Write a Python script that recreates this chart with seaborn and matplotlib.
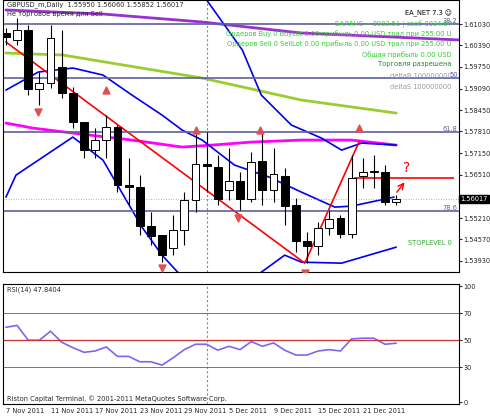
import numpy as np, pandas as pd, matplotlib
matplotlib.use("Agg")
import matplotlib.pyplot as plt
import seaborn as sns

# ---- data ----
opens  = [1.6075,1.6055,1.6085,1.5908,1.5926,1.5974,1.5896,1.5809,1.5725,1.5755,1.5794,1.5620,1.5614,1.5497,1.5470,1.5431,1.5485,1.5575,1.5683,1.5674,1.5605,1.5632,1.5578,1.5692,1.5605,1.5647,1.5560,1.5452,1.5437,1.5491,1.5521,1.5473,1.5647,1.5659,1.5659,1.5569]
closes = [1.6064,1.6085,1.5908,1.5926,1.6061,1.5896,1.5809,1.5725,1.5755,1.5794,1.5620,1.5614,1.5497,1.5467,1.5410,1.5485,1.5575,1.5683,1.5677,1.5578,1.5632,1.5578,1.5689,1.5605,1.5653,1.5557,1.5452,1.5437,1.5491,1.5518,1.5473,1.5641,1.5659,1.5662,1.5569,1.5578]
highs  = [1.6090,1.6120,1.6100,1.5960,1.6100,1.6085,1.5915,1.5810,1.5790,1.5830,1.5800,1.5700,1.5650,1.5540,1.5450,1.5530,1.5600,1.5780,1.5780,1.5710,1.5730,1.5660,1.5720,1.5780,1.5730,1.5670,1.5580,1.5480,1.5510,1.5545,1.5530,1.5710,1.5700,1.5710,1.5680,1.5590]
lows   = [1.6040,1.6040,1.5890,1.5860,1.5910,1.5880,1.5790,1.5700,1.5700,1.5700,1.5600,1.5560,1.5470,1.5440,1.5390,1.5410,1.5440,1.5540,1.5600,1.5560,1.5575,1.5545,1.5570,1.5560,1.5570,1.5500,1.5420,1.5386,1.5410,1.5470,1.5460,1.5460,1.5610,1.5610,1.5560,1.5560]
rsi = [59.6,61,50,50,56.7,48.5,44.5,41,42,45,38,38,34,34,31.5,37,43,47,47,42.6,45.5,43,49,45.5,48,42.6,39,39,42,43,42,51,51.5,51.5,47,47.8]

up_x   = [0,10,15,18.0,21.2,22.9,25.6,28.3,30.1,31.9,35]
up_y   = [1.630,1.635,1.628,1.6175,1.6025,1.5890,1.5800,1.5761,1.5725,1.5746,1.5740]
mid_x  = [0,2.9,6,8.7,11.3,14,15.8,17.6,20.5,23.6,26.5,29.5,31,34.8]
mid_y  = [1.5905,1.5959,1.5971,1.5950,1.5890,1.5830,1.5785,1.5755,1.5680,1.5644,1.5599,1.5554,1.5557,1.5584]
lo_x   = [0,0.9,6,8.7,12.2,14,15.4,18,21,22.9,25,26.5,30.1,35]
lo_y   = [1.5584,1.5650,1.5764,1.5695,1.5494,1.5410,1.5359,1.530,1.530,1.5359,1.5410,1.5389,1.5386,1.5434]
mag_x  = [0,2.4,6,11.3,15.8,18.5,22,26.5,31,35]
mag_y  = [1.5806,1.5791,1.5776,1.5755,1.5734,1.5740,1.5749,1.5755,1.5755,1.5740]
grn_x  = [0,5.1,17.6,26.5,35]
grn_y  = [1.6016,1.6010,1.5941,1.5875,1.5836]
pur_x  = [0,8.7,17.6,26.5,40.8]
pur_y  = [1.6145,1.6133,1.6109,1.6076,1.6055]
zig_x  = [0,26.8,31.7]
zig_y  = [1.6049,1.5386,1.5752]
fib_lv = ["38.2","50","61.8","78.6"]
fib_p  = [1.6103,1.5941,1.5779,1.5542]
fr_up_x = [9,17,22.8,31.7]; fr_up_y = [1.5905,1.5785,1.5785,1.5790]
fr_dn_x = [2.9,14,20.8,26.8]; fr_dn_y = [1.5840,1.5370,1.5520,1.5355]
yticks = [1.6103,1.6039,1.5975,1.5909,1.5845,1.5781,1.5715,1.5651,1.5521,1.5457,1.5393]
dates = ["7 Nov 2011","11 Nov 2011","17 Nov 2011","23 Nov 2011","29 Nov 2011","5 Dec 2011","9 Dec 2011","15 Dec 2011","21 Dec 2011"]

sns.set_style("white")
plt.rcParams['font.family'] = ['DejaVu Sans']
FS = 4.8
fig = plt.figure(figsize=(4.9,4.2), dpi=100)
ax = fig.add_axes([0.006,0.352,0.93,0.648])
ax2 = fig.add_axes([0.006,0.038,0.93,0.285])
xl = (-0.27, 40.6)
n = len(opens); idx = np.arange(n)

for a in (ax, ax2):
    a.set_xlim(*xl)
    for s in a.spines.values(): s.set_color("black"); s.set_linewidth(0.8)
    a.axvline(18.0, color="#888888", ls=(0,(2,2)), lw=0.8)
ax.set_ylim(1.5359, 1.6175)

for i,(o,c,h,l) in enumerate(zip(opens,closes,highs,lows)):
    ax.vlines(i, l, h, color="black", lw=0.8, zorder=3)
    ax.bar(i, abs(c-o) or 0.00008, bottom=min(o,c), width=0.7, color="white" if c>=o else "black", edgecolor="black", lw=0.7, zorder=4)

df = lambda x,y: pd.DataFrame({"x":x,"y":y})
sns.lineplot(data=df(pur_x,pur_y), x="x", y="y", ax=ax, color="#9932CC", lw=2, sort=False)
sns.lineplot(data=df(grn_x,grn_y), x="x", y="y", ax=ax, color="#9ACD32", lw=2, sort=False)
sns.lineplot(data=df(mag_x,mag_y), x="x", y="y", ax=ax, color="#FF00FF", lw=2, sort=False)
for xs,ys in ((up_x,up_y),(mid_x,mid_y),(lo_x,lo_y)):
    sns.lineplot(data=df(xs,ys), x="x", y="y", ax=ax, color="#0000EE", lw=1.2, sort=False)
sns.lineplot(data=df(zig_x,zig_y), x="x", y="y", ax=ax, color="red", lw=1.2, sort=False)
for lv,p in zip(fib_lv,fib_p):
    ax.axhline(p, color="#6060A0", lw=1.2, zorder=2)
    ax.text(40.5, p, lv, fontsize=FS, color="#6060A0", ha="right", va="bottom")
ax.hlines(1.5641, 31.2, 40.2, color="red", lw=1.2)
ax.annotate("", xy=(35.9,1.5635), xytext=(34.9,1.5592), arrowprops=dict(arrowstyle="->", color="red", lw=1))
ax.text(35.9, 1.5660, "?", color="red", fontsize=10, ha="center")
ax.axhline(closes[-1], color="#999999", lw=0.6, ls=(0,(1,2)))
ax.scatter(fr_up_x, fr_up_y, marker="^", color="#E05050", s=25, zorder=5)
ax.scatter(fr_dn_x, fr_dn_y, marker="v", color="#E05050", s=25, zorder=5)

ax.yaxis.tick_right(); ax.set_yticks(yticks)
ax.set_yticklabels([f"{v:.5f}" for v in yticks], fontsize=FS)
ax.tick_params(axis="y", length=2, pad=1.5); ax.set_xticks([]); ax.set_xlabel(""); ax.set_ylabel("")
ax.text(40.75, closes[-1], "1.56017", fontsize=FS, color="white", va="center", ha="left", clip_on=False,
        bbox=dict(boxstyle="square,pad=0.15", fc="black", ec="black"))

ax.text(0.01,0.995,"GBPUSD_m,Daily  1.55950 1.56060 1.55852 1.56017", transform=ax.transAxes, fontsize=FS, va="top")
ax.text(0.01,0.958,"Не торговое время для Sell", transform=ax.transAxes, fontsize=FS, va="top")
rt = [("EA_NET 7.3 ☺","black"),("БАЛАНС = 8983.51 | своб 8834.87","#33CC33"),
      ("Ордеров Buy 0 BuyLot 0.00 прибыль 0.00 USD трал при 255.00 U","#33CC33"),
      ("Ордеров Sell 0 SellLot 0.00 прибыль 0.00 USD трал при 255.00 U","#33CC33"),
      ("Общая прибыль 0.00 USD","#33CC33"),("Торговля разрешена","#228B22")]
for k,(t,c) in enumerate(rt):
    ax.text(0.985, 0.965-k*0.038, t, transform=ax.transAxes, fontsize=FS, color=c, ha="right", va="top")
ax.text(0.985, 0.73, "deltaB 100000000", transform=ax.transAxes, fontsize=FS, color="#999999", ha="right", va="top")
ax.text(0.985, 0.69, "deltaS 100000000", transform=ax.transAxes, fontsize=FS, color="#999999", ha="right", va="top")
ax.text(0.985, 0.10, "STOPLEVEL 0", transform=ax.transAxes, fontsize=FS, color="#33AA33", ha="right")

lo, hi = 2.6, 91.5
ax2.set_ylim(lo, hi)
sns.lineplot(x=idx, y=rsi, ax=ax2, color="#7B68EE", lw=1.2)
for lv in (70,50,30):
    ax2.axhline(lv, color="#CC3333", lw=0.9 if lv==50 else 0.6)
ax2.yaxis.tick_right(); ax2.set_yticks([lo+1.5,30,50,70,hi-1.5])
ax2.set_yticklabels(["0","30","50","70","100"], fontsize=FS)
ax2.tick_params(axis="y", length=2, pad=1.5)
ax2.set_xticks(np.arange(0, 36, 4)); ax2.set_xticklabels(dates, fontsize=FS, ha="left")
ax2.tick_params(axis="x", length=2, pad=1)
ax2.text(0.01,0.985,"RSI(14) 47.8404", transform=ax2.transAxes, fontsize=FS, va="top")
ax2.text(0.01,0.02,"Riston Capital Terminal, © 2001-2011 MetaQuotes Software Corp.", transform=ax2.transAxes, fontsize=FS, va="bottom")
fig.savefig("out.png", dpi=100)
